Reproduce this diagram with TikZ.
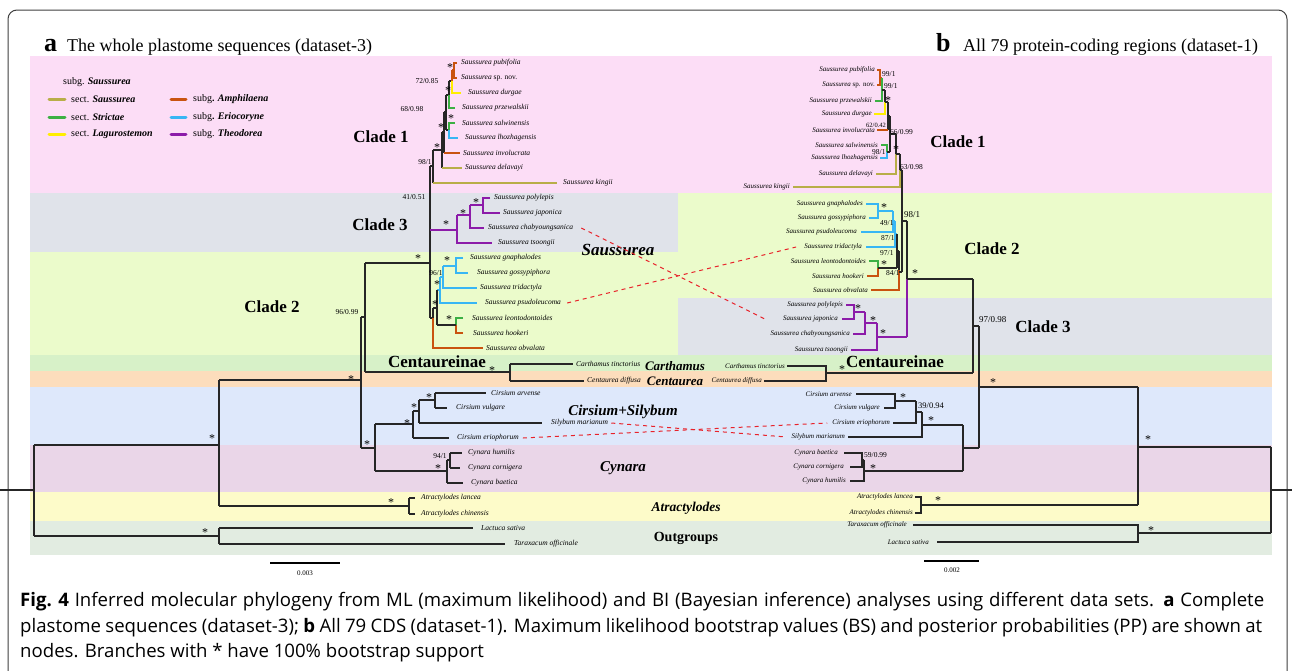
\documentclass[tikz,border=0pt]{standalone}
\usepackage{fontspec}
\setmainfont{Liberation Serif}
\newfontfamily\capfont{Open Sans}
\definecolor{pinkb}{HTML}{FCDDF6}
\definecolor{grayb}{HTML}{E0E3EA}
\definecolor{greenb}{HTML}{EBFBCB}
\definecolor{centb}{HTML}{D7F1C8}
\definecolor{orab}{HTML}{FCDDBC}
\definecolor{blueb}{HTML}{DEE8FB}
\definecolor{mauveb}{HTML}{EAD6E8}
\definecolor{yelb}{HTML}{FDFBC9}
\definecolor{outb}{HTML}{E2ECE1}
\definecolor{cOl}{HTML}{B8AE48}
\definecolor{cAm}{HTML}{C9530F}
\definecolor{cSt}{HTML}{3CB044}
\definecolor{cYe}{HTML}{FFEE00}
\definecolor{cBl}{HTML}{38B6F4}
\definecolor{cPu}{HTML}{8C1BA9}
\definecolor{cRed}{HTML}{E8222A}
\newcommand\tipfa{\fontsize{7.5}{8}\selectfont\itshape}
\newcommand\tipfb{\fontsize{7}{8}\selectfont\itshape}
\newcommand\supf{\fontsize{7.5}{8}\selectfont}
\newcommand\starf{\fontsize{12}{12}\selectfont}
\newcommand\cladef{\fontsize{17}{18}\selectfont\bfseries}
\newcommand\grpf{\fontsize{14.5}{16}\selectfont\bfseries\itshape}
\newcommand\legf{\fontsize{10}{11}\selectfont}
\newcommand\capf{\capfont\fontsize{18.6}{21}\selectfont}
\newcommand\hl[4][br]{\draw[#1] (#2,#4) -- (#3,#4);}
\newcommand\vl[4][br]{\draw[#1] (#2,#3) -- (#2,#4);}
\begin{document}
\begin{tikzpicture}[x=1pt,y=-1pt,
  br/.style={line width=1.1pt, draw=black!85},
  cb/.style={line width=1.4pt},
  tla/.style={font=\tipfa, anchor=west, inner sep=0pt},
  tra/.style={font=\tipfb, anchor=east, inner sep=0pt},
  sv/.style={font=\supf, inner sep=0pt},
  st/.style={font=\starf, inner sep=0pt, yshift=-2pt},
  cl/.style={font=\cladef, inner sep=0pt},
  grp/.style={font=\grpf, inner sep=0pt},
  rdash/.style={draw=cRed, line width=1pt, dash pattern=on 4pt off 4pt},
  leg/.style={font=\legf, anchor=west, inner sep=0pt},
  legl/.style={line width=3pt, line cap=round}]
\useasboundingbox (0,0) rectangle (1295,670);
\fill[white] (0,0) rectangle (1295,670);
% frame
\draw[rounded corners=9pt, line width=1pt, black!75] (8,10) rectangle (1287,700);
% bands
\fill[pinkb] (30,56) rectangle (1272,193);
\fill[grayb] (30,193) rectangle (678,252);
\fill[greenb] (678,193) rectangle (1272,298);
\fill[greenb] (30,252) rectangle (678,355);
\fill[grayb] (678,298) rectangle (1272,355);
\fill[centb] (30,355) rectangle (1272,371);
\fill[orab] (30,371) rectangle (1272,387);
\fill[blueb] (30,387) rectangle (1272,445);
\fill[mauveb] (30,445) rectangle (1272,492);
\fill[yelb] (30,492) rectangle (1272,521);
\fill[outb] (30,521) rectangle (1272,555);
% titles
\node[anchor=base west, inner sep=0pt] (ta) at (44,51) {\fontsize{26}{26}\selectfont\bfseries a};
\node[anchor=base west, inner sep=0pt] (tat) at (67,51) {\fontsize{18}{18}\selectfont The whole plastome sequences (dataset-3)};
\node[anchor=base west, inner sep=0pt] (tb) at (936,51) {\fontsize{26}{26}\selectfont\bfseries b};
\node[anchor=base west, inner sep=0pt] (tbt) at (963,51) {\fontsize{18}{18}\selectfont All 79 protein-coding regions (dataset-1)};
% legend
\node[leg] (lg0) at (63,82) {subg. \textbf{\textit{Saussurea}}};
\draw[legl, cOl] (49,99) -- (65,99); \node[leg] (lg1) at (71,99) {sect. \textbf{\textit{Saussurea}}};
\draw[legl, cSt] (49,117) -- (65,117); \node[leg] (lg2) at (71,117) {sect. \textbf{\textit{Strictae}}};
\draw[legl, cYe] (49,134) -- (65,134); \node[leg] (lg3) at (71,134) {sect. \textbf{\textit{Lagurostemon}}};
\draw[legl, cAm] (171,99) -- (186,99); \node[leg] (lg4) at (193,99) {subg\textbf{. \textit{Amphilaena}}};
\draw[legl, cBl] (171,117) -- (186,117); \node[leg] (lg5) at (193,117) {subg\textbf{. \textit{Eriocoryne}}};
\draw[legl, cPu] (171,134) -- (186,134); \node[leg] (lg6) at (193,134) {subg. \textbf{\textit{Theodorea}}};
% group labels
\node[cl] (c1a) at (381,137) {Clade 1};
\node[cl] (c3a) at (380,225) {Clade 3};
\node[cl] (c2a) at (272,307) {Clade 2};
\node[cl] (c1b) at (958,142) {Clade 1};
\node[cl] (c2b) at (992,249) {Clade 2};
\node[cl] (c3b) at (1043,327) {Clade 3};
\node[grp, font=\fontsize{17}{18}\selectfont\bfseries\itshape] (gS) at (618,250) {Saussurea};
\node[cl] (cea) at (437,362) {Centaureinae};
\node[cl] (ceb) at (895,362) {Centaureinae};
\node[grp, font=\fontsize{13}{14}\selectfont\bfseries\itshape] (gCa) at (675,366) {Carthamus};
\node[grp, font=\fontsize{13}{14}\selectfont\bfseries\itshape] (gCe) at (675,381) {Centaurea};
\node[grp, font=\fontsize{15}{16}\selectfont\bfseries\itshape] (gCS) at (623,412) {Cirsium+Silybum};
\node[grp, font=\fontsize{15}{16}\selectfont\bfseries\itshape] (gCy) at (623,468) {Cynara};
\node[grp, font=\fontsize{13.5}{15}\selectfont\bfseries\itshape] (gAt) at (686,508) {Atractylodes};
\node[grp, font=\fontsize{14}{15}\selectfont\bfseries] (gOu) at (686,538) {Outgroups};

% ================= TREE A =================
% root and outgroups
\vl{34}{445}{536}
\hl{0}{34}{490}
\hl{34}{219}{445}
\hl{34}{219}{536}
\vl{219}{528}{544}
\hl{219}{473}{528}
\hl{219}{505}{544}
% ingroup
\vl{219}{380}{506}
\hl{219}{409}{506}
\vl{409}{498}{514}
\hl{409}{415}{498}
\hl{409}{415}{514}
\hl{219}{361}{380}
\vl{361}{317}{448}
\hl{361}{365}{317}
\hl{361}{375}{448}
\vl{365}{263}{372}
\hl{365}{430}{263}
\hl{365}{510}{372}
\vl{510}{364}{381}
\hl{510}{573}{364}
\hl{510}{584}{381}
% Cirsium / Cynara
\vl{375}{424}{471}
\hl{375}{413}{424}
\hl{375}{447}{471}
\vl{413}{411}{438}
\hl{413}{449}{438}
\hl{413}{419}{411}
\vl{419}{400}{423}
\hl{419}{542}{423}
\hl{419}{435}{400}
\vl{435}{393}{408}
\hl{435}{486}{393}
\hl{435}{447}{408}
\vl{447}{460}{483}
\hl{447}{463}{483}
\hl{447}{450}{460}
\vl{450}{453}{468}
\hl{450}{462}{453}
\hl{450}{460}{468}
% Saussurea backbone
\vl{430}{166}{318}
\hl{430}{433}{166}
\hl{430}{433}{318}
% clade 1 (a)
\vl{433}{150}{183}
\draw[cb,cOl] (433,183) -- (557,183);
\hl{433}{442}{150}
\vl{442}{132}{168}
\draw[cb,cOl] (442,168) -- (462,168);
\hl{442}{444}{132}
\vl{444}{112}{153}
\draw[cb,cAm] (444,153) -- (460,153);
\hl{444}{446}{112}
\vl{446}{95}{130}
\hl{446}{449}{130}
\draw[cb,cSt] (449,130) -- (449,123) -- (455,123);
\draw[cb,cBl] (449,130) -- (449,138) -- (458,138);
\hl{446}{449}{95}
\vl{449}{81}{95}
\draw[cb,cSt] (449,95) -- (449,108) -- (455,108);
\hl{449}{452}{81}
\draw[cb,cAm] (452,70) -- (452,81);
\draw[cb,cYe] (452,81) -- (452,93) -- (461,93);
\draw[cb,cAm] (452,70) -- (454,70);
\draw[cb,cAm] (457,63) -- (454,63) -- (454,78) -- (457,78);
% clade 3 (a)
\draw[cb,cPu] (430,230) -- (457,230);
\draw[cb,cPu] (457,215) -- (457,243) -- (492,243);
\draw[cb,cPu] (457,215) -- (470,215);
\draw[cb,cPu] (470,205) -- (470,228) -- (484,228);
\draw[cb,cPu] (470,205) -- (483,205);
\draw[cb,cPu] (490,198) -- (483,198) -- (483,213) -- (500,213);
% clade 2 (a)
\draw[cb,cBl] (463,258) -- (456,258) -- (456,273) -- (468,273);
\draw[cb,cBl] (443,266) -- (456,266);
\draw[cb,cBl] (443,266) -- (443,288) -- (477,288);
\draw[cb,cBl] (440,277) -- (443,277);
\draw[cb,cBl] (440,277) -- (440,303) -- (477,303);
\draw[cb,cBl] (437,290) -- (440,290);
\draw[cb,cSt] (463,318) -- (456,318) -- (456,325);
\draw[cb,cAm] (463,333) -- (456,333) -- (456,325);
\hl{437}{456}{325}
\vl{437}{290}{325}
\hl{433}{437}{308}
\vl{433}{308}{318}
\draw[cb,cAm] (433,318) -- (433,348) -- (483,348);
% tips (a)
\node[tla] (a-pub) at (461,63) {Saussurea pubifolia};
\node[tla] (a-spn) at (461,78) {Saussurea {\upshape sp. nov.}};
\node[tla] (a-dur) at (468,93) {Saussurea durgae};
\node[tla] (a-prz) at (462,108) {Saussurea przewalskii};
\node[tla] (a-sal) at (462,123) {Saussurea salwinensis};
\node[tla] (a-lho) at (465,138) {Saussurea lhozhagensis};
\node[tla] (a-inv) at (463,153) {Saussurea involucrata};
\node[tla] (a-del) at (465,168) {Saussurea delavayi};
\node[tla] (a-kin) at (563,183) {Saussurea kingii};
\node[tla] (a-pol) at (494,198) {Saussurea polylepis};
\node[tla] (a-jap) at (503,213) {Saussurea japonica};
\node[tla] (a-cha) at (488,228) {Saussurea chabyoungsanica};
\node[tla] (a-tso) at (498,243) {Saussurea tsoongii};
\node[tla] (a-gna) at (470,258) {Saussurea gnaphalodes};
\node[tla] (a-gos) at (477,273) {Saussurea gossypiphora};
\node[tla] (a-tri) at (480,288) {Saussurea tridactyla};
\node[tla] (a-psu) at (485,303) {Saussurea psudoleucoma};
\node[tla] (a-leo) at (472,318) {Saussurea leontodontoides};
\node[tla] (a-hoo) at (473,333) {Saussurea hookeri};
\node[tla] (a-obv) at (486,348) {Saussurea obvalata};
\node[tla] (a-car) at (576,364) {Carthamus tinctorius};
\node[tla] (a-cen) at (587,381) {Centaurea diffusa};
\node[tla] (a-arv) at (491,393) {Cirsium arvense};
\node[tla] (a-vul) at (456,408) {Cirsium vulgare};
\node[tla] (a-sil) at (551,423) {Silybum marianum};
\node[tla] (a-eri) at (457,438) {Cirsium eriophorum};
\node[tla] (a-hum) at (468,453) {Cynara humilis};
\node[tla] (a-cor) at (468,468) {Cynara cornigera};
\node[tla] (a-bae) at (471,483) {Cynara baetica};
\node[tla] (a-lan) at (421,498) {Atractylodes lancea};
\node[tla] (a-chi) at (421,514) {Atractylodes chinensis};
\node[tla] (a-lac) at (481,528) {Lactuca sativa};
\node[tla] (a-tar) at (514,544) {Taraxacum officinale};
% supports (a)
\node[sv] at (427,81) {72/0.85};
\node[sv] at (412,109) {68/0.98};
\node[sv] at (425,162) {98/1};
\node[sv] at (414,197) {41/0.51};
\node[sv] at (436,273) {96/1};
\node[sv] at (347,312) {96/0.99};
\node[sv] at (440,456) {94/1};
\foreach \p in {(450,66),(448,89),(451,117),(441,126),(437,146),(446,223),(463,212),(476,201),(418,257),(447,259),(437,283),(435,303),(449,318),(367,443),(407,422),(414,406),(429,396),(438,467),(492,369),(351,378),(212,437),(391,501),(205,531)}
  \node[st] at \p {*};

% ================= TREE B =================
% clade 1 (b)
\draw[cb,cAm] (877,70) -- (880,70) -- (880,85) -- (877,85);
\draw[cb,cAm] (880,78) -- (882,78);
\draw[cb,cSt] (882,78) -- (882,101) -- (875,101);
\hl{882}{885}{90}
\vl{885}{90}{102}
\draw[cb,cYe] (885,102) -- (885,114) -- (874,114);
\hl{885}{888}{102}
\vl{888}{102}{130}
\draw[cb,cAm] (877,130) -- (888,130);
\hl{888}{890}{116}
\vl{890}{116}{152}
\draw[cb,cSt] (881,145) -- (887,145) -- (887,152);
\draw[cb,cBl] (880,158) -- (887,158) -- (887,152);
\hl{887}{890}{152}
\hl{890}{896}{134}
\vl{896}{134}{154}
\draw[cb,cOl] (896,154) -- (896,174) -- (876,174);
\hl{896}{900}{154}
\vl{900}{154}{170}
\draw[cb,cOl] (900,170) -- (900,187) -- (793,187);
\hl{900}{902}{170}
\vl{902}{170}{272}
\hl{902}{907}{221}
\vl{907}{221}{279}
\draw[cb,cPu] (907,279) -- (907,337);
\hl{907}{973}{279}
% clade 2 (b)
\draw[cb,cBl] (866,204) -- (878,204) -- (878,218) -- (869,218);
\draw[cb,cBl] (878,211) -- (893,211);
\draw[cb,cBl] (893,211) -- (893,232) -- (861,232);
\draw[cb,cBl] (893,221) -- (895,221);
\draw[cb,cBl] (895,221) -- (895,247) -- (866,247);
\draw[cb,cBl] (895,234) -- (897,234);
\draw[cb,cSt] (869,261) -- (878,261) -- (878,268);
\draw[cb,cAm] (867,276) -- (878,276) -- (878,268);
\hl{878}{897}{268}
\vl{897}{234}{268}
\hl{897}{899}{251}
\vl{899}{251}{270}
\draw[cb,cAm] (899,270) -- (899,290) -- (871,290);
\hl{899}{902}{272}
% clade 3 (b)
\draw[cb,cPu] (846,305) -- (854,305) -- (854,319) -- (842,319);
\draw[cb,cPu] (854,312) -- (865,312);
\draw[cb,cPu] (865,312) -- (865,334) -- (853,334);
\draw[cb,cPu] (865,323) -- (877,323);
\draw[cb,cPu] (877,323) -- (877,350) -- (851,350);
\draw[cb,cPu] (877,337) -- (907,337);
% centaureinae (b)
\vl{973}{279}{373}
\hl{973}{979}{326}
\draw[br] (787,366) -- (826,366) -- (826,381) -- (764,381);
\hl{826}{973}{373}
\vl{979}{326}{448}
\hl{979}{1138}{387}
% cirsium/cynara (b)
\draw[br] (856,394) -- (895,394) -- (895,408) -- (884,408);
\hl{895}{916}{401}
\draw[br] (916,401) -- (916,423) -- (893,423);
\hl{916}{922}{412}
\draw[br] (922,412) -- (922,437) -- (848,437);
\hl{922}{963}{425}
\vl{963}{425}{471}
\hl{963}{979}{448}
\draw[br] (844,453) -- (862,453) -- (862,467) -- (850,467);
\hl{862}{864}{460}
\draw[br] (864,460) -- (864,481) -- (850,481);
\hl{864}{963}{471}
% atractylodes / outgroups (b)
\draw[br] (915,497) -- (921,497) -- (921,513) -- (915,513);
\hl{921}{1138}{505}
\vl{1138}{387}{505}
\hl{1138}{1271}{447}
\draw[br] (913,525) -- (1138,525) -- (1138,542) -- (937,542);
\hl{1138}{1271}{533}
\vl{1271}{447}{533}
\hl{1271}{1292}{490}
% tips (b)
\node[tra] (b-pub) at (875,70) {Saussurea pubifolia};
\node[tra] (b-spn) at (875,85) {Saussurea {\upshape sp. nov.}};
\node[tra] (b-prz) at (872,101) {Saussurea przewalskii};
\node[tra] (b-dur) at (872,114) {Saussurea durgae};
\node[tra] (b-inv) at (875,130) {Saussurea involucrata};
\node[tra] (b-sal) at (878,145) {Saussurea salwinensis};
\node[tra] (b-lho) at (878,158) {Saussurea lhozhagensis};
\node[tra] (b-del) at (873,174) {Saussurea delavayi};
\node[tra] (b-kin) at (790,187) {Saussurea kingii};
\node[tra] (b-gna) at (863,204) {Saussurea gnaphalodes};
\node[tra] (b-gos) at (866,218) {Saussurea gossypiphora};
\node[tra] (b-psu) at (857,232) {Saussurea psudoleucoma};
\node[tra] (b-tri) at (862,247) {Saussurea tridactyla};
\node[tra] (b-leo) at (866,261) {Saussurea leontodontoides};
\node[tra] (b-hoo) at (864,276) {Saussurea hookeri};
\node[tra] (b-obv) at (868,290) {Saussurea obvalata};
\node[tra] (b-pol) at (843,305) {Saussurea polylepis};
\node[tra] (b-jap) at (838,319) {Saussurea japonica};
\node[tra] (b-cha) at (850,334) {Saussurea chabyoungsanica};
\node[tra] (b-tso) at (848,350) {Saussurea tsoongii};
\node[tra] (b-car) at (785,366) {Carthamus tinctorius};
\node[tra] (b-cen) at (762,381) {Centaurea diffusa};
\node[tra] (b-arv) at (852,394) {Cirsium arvense};
\node[tra] (b-vul) at (880,408) {Cirsium vulgare};
\node[tra] (b-eri) at (890,423) {Cirsium eriophorum};
\node[tra] (b-sil) at (845,437) {Silybum marianum};
\node[tra] (b-bae) at (838,453) {Cynara baetica};
\node[tra] (b-cor) at (844,467) {Cynara cornigera};
\node[tra] (b-hum) at (846,481) {Cynara humilis};
\node[tra] (b-lan) at (913,497) {Atractylodes lancea};
\node[tra] (b-chi) at (913,513) {Atractylodes chinensis};
\node[tra] (b-tar) at (907,525) {Taraxacum officinale};
\node[tra] (b-lac) at (929,542) {Lactuca sativa};
% supports (b)
\node[sv,anchor=west] at (882,74) {99/1};
\node[sv,anchor=west] at (884,86) {99/1};
\node[sv,anchor=west, font=\fontsize{6.5}{7}\selectfont] at (866,125) {62/0.42};
\node[sv,anchor=west] at (890,132) {66/0.99};
\node[sv,anchor=west] at (872,152) {98/1};
\node[sv,anchor=west] at (900,167) {63/0.98};
\node[sv,anchor=west, font=\fontsize{9}{10}\selectfont] at (904,215) {98/1};
\node[sv,anchor=west] at (880,223) {49/1};
\node[sv,anchor=west] at (881,238) {87/1};
\node[sv,anchor=west] at (880,253) {97/1};
\node[sv,anchor=west] at (886,273) {84/1};
\node[sv,anchor=west, font=\fontsize{9}{10}\selectfont] at (979,320) {97/0.98};
\node[sv,anchor=west, font=\fontsize{8.5}{9}\selectfont] at (918,406) {39/0.94};
\node[sv,anchor=west] at (864,455) {59/0.99};
\foreach \p in {(888,99),(896,148),(884,206),(884,263),(915,272),(858,307),(873,319),(883,332),(842,368),(993,381),(903,396),(931,419),(873,467),(938,499),(1148,438),(1151,529)}
  \node[st] at \p {*};
% red dashed links
\draw[rdash] ([xshift=8pt]a-cha.east) -- ([xshift=-18pt]b-jap.west);
\draw[rdash] ([xshift=6pt]a-psu.east) -- ([xshift=-8pt]b-tri.west);
\draw[rdash] ([xshift=3pt]a-sil.east) -- ([xshift=-5pt]b-sil.west);
\draw[rdash] ([xshift=4pt]a-eri.east) -- ([xshift=-5pt]b-eri.west);
% scale bars
\draw[line width=1.1pt] (270,563) -- (340,563);
\node[font=\fontsize{7}{8}\selectfont, inner sep=0pt] (sa) at (305,573) {0.003};
\draw[line width=1.1pt] (924,561) -- (979,561);
\node[font=\fontsize{7}{8}\selectfont, inner sep=0pt] (sb) at (952,570) {0.002};
% caption
\node[anchor=base west, inner sep=0pt, font=\capf] (cap1) at (20,606) {\makebox[1244pt][s]{\mbox{\textbf{Fig. 4}} Inferred molecular phylogeny from ML (maximum likelihood) and BI (Bayesian inference) analyses using different data sets. \textbf{a} Complete}};
\node[anchor=base west, inner sep=0pt, font=\capf] (cap2) at (20,632) {\makebox[1242pt][s]{plastome sequences (dataset-3); \textbf{b} All 79 CDS (dataset-1). Maximum likelihood bootstrap values (BS) and posterior probabilities (PP) are shown at}};
\node[anchor=base west, inner sep=0pt, font=\capf] (cap3) at (20,657) {nodes. Branches with * have 100\% bootstrap support};
\end{tikzpicture}
\end{document}
